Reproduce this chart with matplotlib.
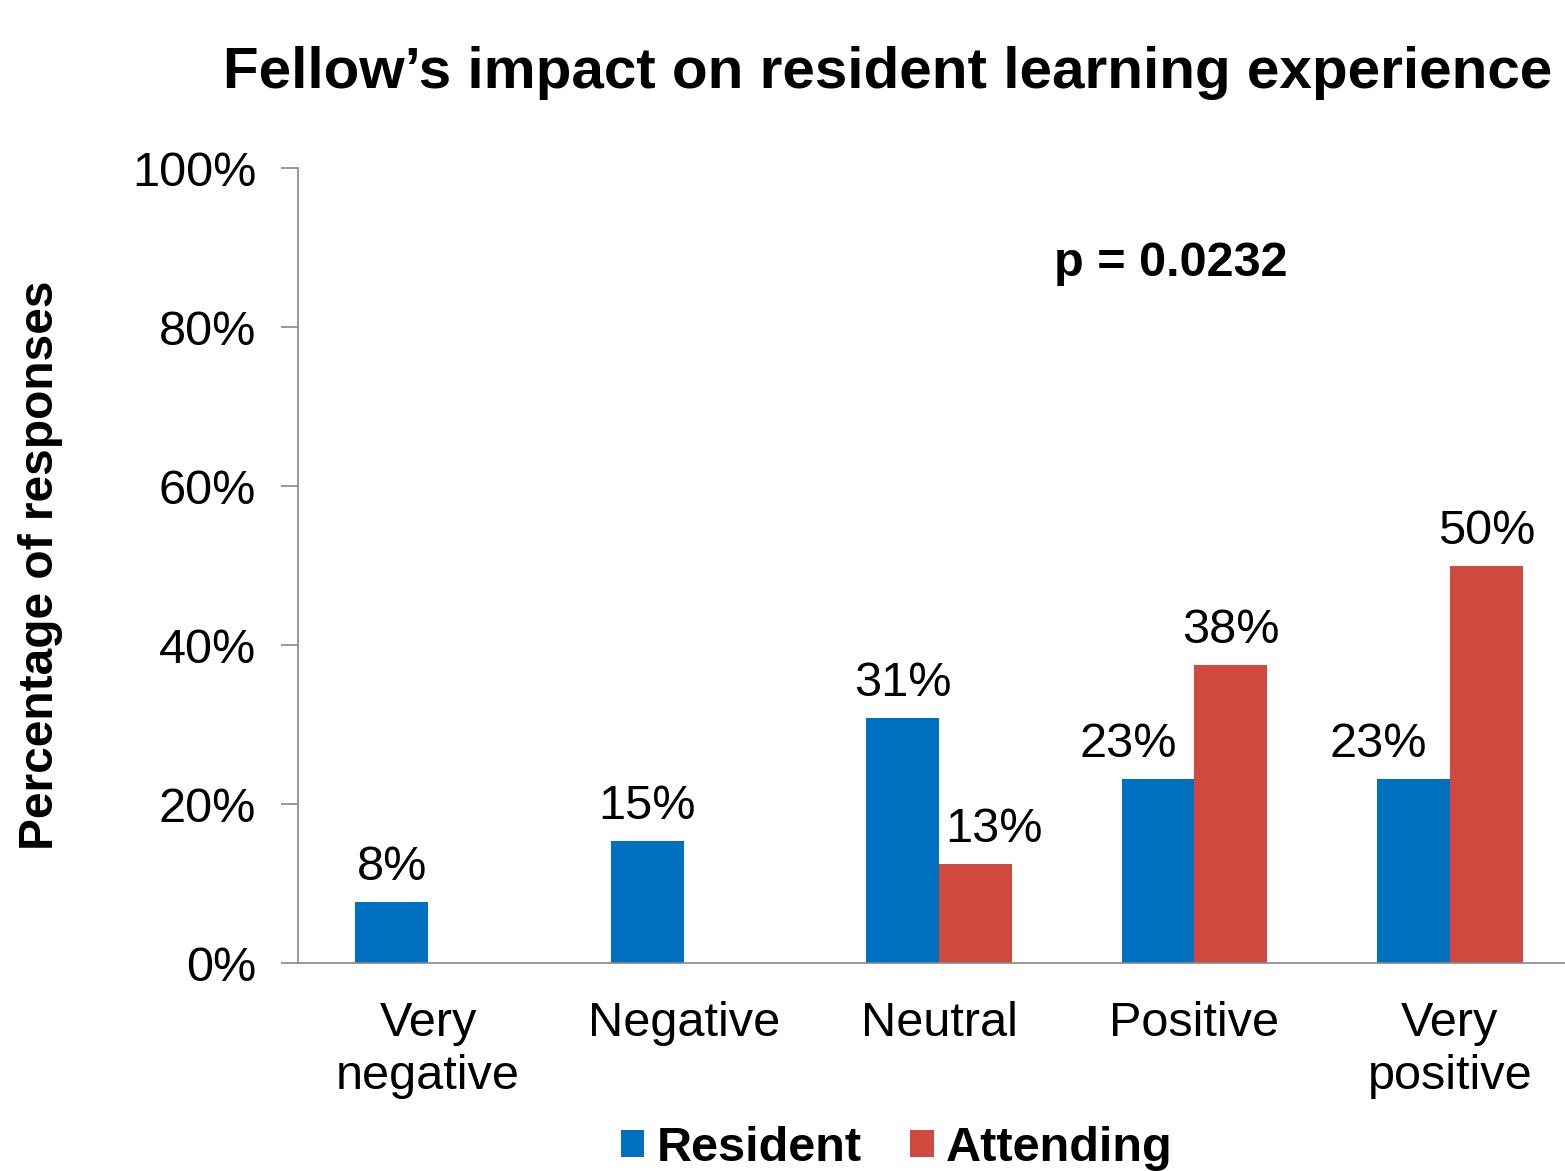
import numpy as np
import matplotlib.pyplot as plt

plt.rcParams['font.family'] = ['Liberation Sans', 'DejaVu Sans']

categories = ["Very\nnegative", "Negative", "Neutral", "Positive", "Very\npositive"]
resident = [7.7, 15.4, 30.8, 23.1, 23.1]
attending = [0, 0, 12.5, 37.5, 50.0]

blue = '#0070C0'
red = '#D0483E'
fs = 35

fig = plt.figure(figsize=(15.65, 11.71), dpi=100)
ax = fig.add_axes([0.1904, 0.1776, 0.816, 0.6789])

x = np.arange(len(categories))
w = 0.285
ax.bar(x - w / 2, resident, w, color=blue, label='Resident')
ax.bar(x + w / 2, attending, w, color=red, label='Attending')

# labels nudged sideways where neighbouring labels would collide
res_shift = [0, 0, 0, -0.118, -0.137]
att_shift = [0, 0, 0.074, 0, 0]
for xi, v, dx in zip(x, resident, res_shift):
    if v > 0:
        ax.text(xi - w / 2 + dx, v + 1.5, f"{int(v + 0.5)}%", ha='center', va='bottom', fontsize=fs)
for xi, v, dx in zip(x, attending, att_shift):
    if v > 0:
        ax.text(xi + w / 2 + dx, v + 1.5, f"{int(v + 0.5)}%", ha='center', va='bottom', fontsize=fs)

ax.set_ylim(0, 100)
ax.set_xlim(-0.51, 4.49)
ax.set_yticks(range(0, 101, 20))
ax.set_yticklabels([f"{t}%" for t in range(0, 101, 20)])
ax.set_xticks(x)
ax.set_xticklabels(categories, linespacing=1.25)
ax.tick_params(axis='y', labelsize=fs, length=12, width=1.2, color='#888888', pad=18)
ax.tick_params(axis='x', labelsize=fs, length=0, pad=27)
for s in ['top', 'right']:
    ax.spines[s].set_visible(False)
for s in ['left', 'bottom']:
    ax.spines[s].set_color('#888888')
    ax.spines[s].set_linewidth(1.2)

ax.set_ylabel("Percentage of responses", fontsize=34.5, fontweight='bold')
ax.yaxis.set_label_coords(-0.184, 0.5)

fig.text(0.567, 0.938, "Fellow\u2019s impact on resident learning experience",
         ha='center', va='center', fontsize=42, fontweight='bold')
ax.text(2.906, 88, "p = 0.0232", ha='center', va='center', fontsize=fs, fontweight='bold')

fig.legend(loc='lower center', bbox_to_anchor=(0.573, -0.037), ncol=2, frameon=False,
           prop={'size': fs, 'weight': 'bold'}, handlelength=0.48, handleheight=0.48,
           handletextpad=0.25, columnspacing=1.0)

fig.savefig('out.png', dpi=100)
